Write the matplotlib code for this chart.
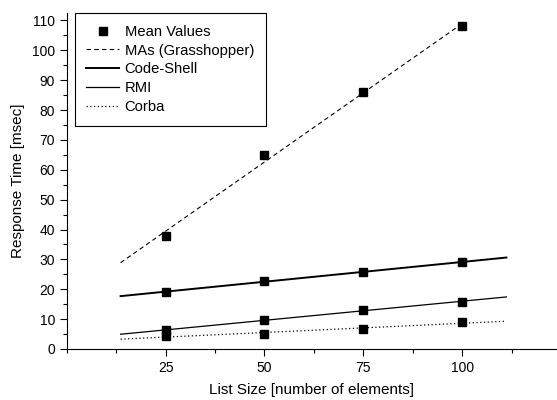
import numpy as np
import matplotlib
matplotlib.use("Agg")
import matplotlib.pyplot as plt
from matplotlib.ticker import MultipleLocator

plt.rcParams['font.family'] = ['Liberation Sans', 'DejaVu Sans']

sizes = [25, 50, 75, 100]
mas = [37.8, 65.0, 86.0, 108.0]
code_shell = [19.0, 22.9, 25.7, 29.1]
rmi = [6.2, 9.8, 13.0, 15.8]
corba = [4.4, 5.1, 6.7, 9.0]

fit_start = 13.6
fit_end_mas = 100
fit_end = 111.2

fig = plt.figure(figsize=(5.57, 4.0), dpi=100)
ax = fig.add_axes([0.120, 0.1275, 0.88, 0.84])

x = np.array(sizes, dtype=float)
all_means = np.concatenate([mas, code_shell, rmi, corba])
all_x = np.tile(x, 4)

# linear fit lines through the mean values
def fit_line(y, x1):
    k, b = np.polyfit(x, y, 1)
    xs = np.array([fit_start, x1])
    return xs, k * xs + b

xs, ys = fit_line(mas, fit_end_mas)
ax.plot(xs, ys, color='black', lw=0.8, dashes=(4, 3), label='MAs (Grasshopper)')
xs, ys = fit_line(code_shell, fit_end)
ax.plot(xs, ys, color='black', lw=1.4, label='Code-Shell')
xs, ys = fit_line(rmi, fit_end)
ax.plot(xs, ys, color='black', lw=0.9, label='RMI')
xs, ys = fit_line(corba, fit_end)
ax.plot(xs, ys, color='black', lw=0.9, dashes=(1, 2), label='Corba')

ax.plot(all_x, all_means, 's', color='black', ms=6, label='Mean Values', zorder=5)

ax.set_xlim(0, 124)
ax.set_ylim(0, 112.5)
ax.set_xticks(sizes)
ax.xaxis.set_minor_locator(MultipleLocator(12.5))
ax.yaxis.set_major_locator(MultipleLocator(10))
ax.yaxis.set_minor_locator(MultipleLocator(5))
ax.tick_params(which='major', direction='out', length=5, width=0.8, labelsize=10)
ax.tick_params(which='minor', direction='out', length=3, width=0.8)
for s in ['top', 'right']:
    ax.spines[s].set_visible(False)

ax.set_xlabel('List Size [number of elements]', fontsize=11, labelpad=6)
ax.set_ylabel('Response Time [msec]', fontsize=11, labelpad=5)

handles, labels = ax.get_legend_handles_labels()
order = [4, 0, 1, 2, 3]
leg = ax.legend([handles[i] for i in order], [labels[i] for i in order],
                loc='upper left', bbox_to_anchor=(0.016, 1.0), fontsize=10.6,
                numpoints=1, handlelength=2.2, handletextpad=0.4,
                labelspacing=0.33, borderpad=0.8, fancybox=False,
                framealpha=1, edgecolor='black', borderaxespad=0)
leg.get_frame().set_linewidth(0.8)

fig.savefig('out.png', dpi=100)
